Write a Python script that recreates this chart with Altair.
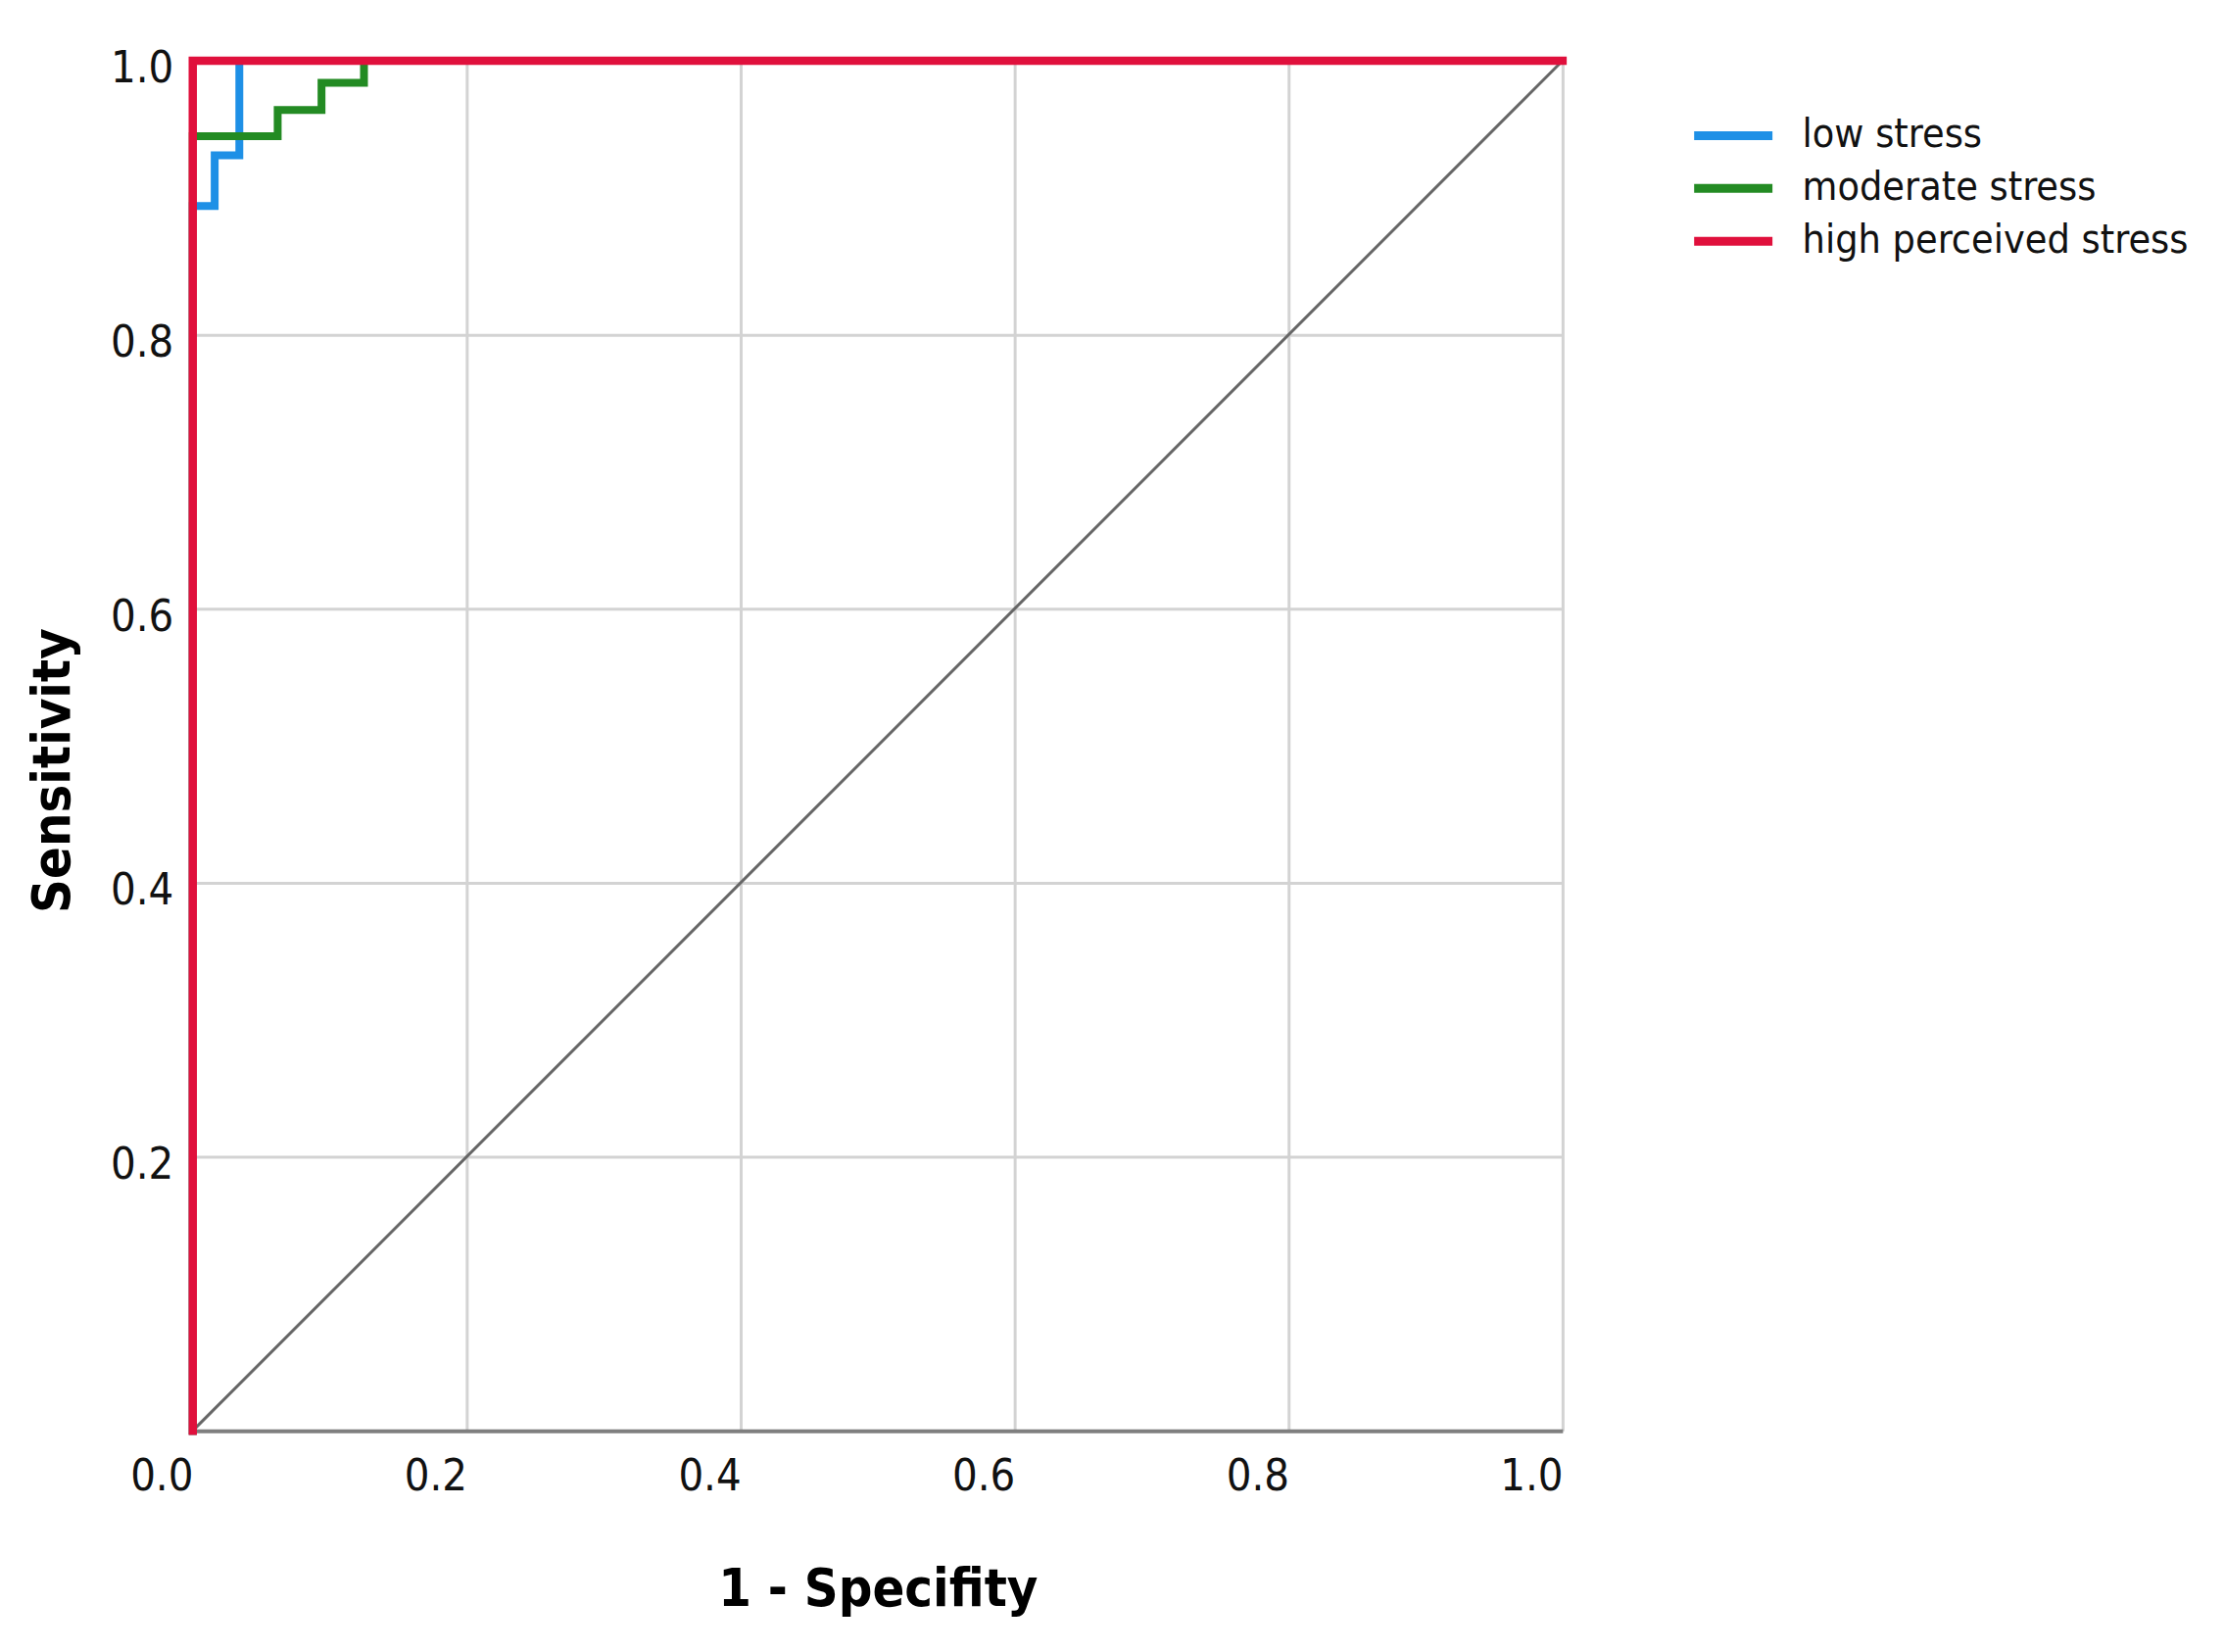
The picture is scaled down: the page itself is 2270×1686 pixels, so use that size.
import altair as alt
import pandas as pd

series_names = ["low stress", "moderate stress", "high perceived stress"]
series_colors = ["#1E90E6", "#238B23", "#E0103C"]

low_fpr = [0.0, 0.0, 0.016, 0.016, 0.034, 0.034, 1.0]
low_tpr = [0.0, 0.894, 0.894, 0.931, 0.931, 1.0, 1.0]
mod_fpr = [0.0, 0.0, 0.062, 0.062, 0.094, 0.094, 0.125, 0.125, 1.0]
mod_tpr = [0.0, 0.945, 0.945, 0.964, 0.964, 0.984, 0.984, 1.0, 1.0]
high_fpr = [0.0, 0.0, 1.0]
high_tpr = [0.0, 1.0, 1.0]
ref_fpr = [0.0, 1.0]
ref_tpr = [0.0, 1.0]

x_ticks = [0.0, 0.2, 0.4, 0.6, 0.8, 1.0]
y_ticks = [0.2, 0.4, 0.6, 0.8, 1.0]

FONT = "DejaVu Sans Condensed, DejaVu Sans"


def frame(name, xs, ys):
    return pd.DataFrame({"group": name, "fpr": xs, "tpr": ys, "step": list(range(len(xs)))})


df_low = frame(series_names[0], low_fpr, low_tpr)
df_mod = frame(series_names[1], mod_fpr, mod_tpr)
df_high = frame(series_names[2], high_fpr, high_tpr)
df_ref = pd.DataFrame({"fpr": ref_fpr, "tpr": ref_tpr, "step": [0, 1]})

x_enc = alt.X(
    "fpr:Q",
    scale=alt.Scale(domain=[0, 1], nice=False, zero=False),
    axis=alt.Axis(
        values=x_ticks,
        format=".1f",
        title="1 - Specifity",
        ticks=False,
        grid=True,
        gridColor="#d3d3d3",
        gridWidth=3,
        domainColor="#7f7f7f",
        domainWidth=4,
        labelFontSize=45,
        labelPadding=24,
        labelOffset=-32,
        labelFlush=False,
        titleFontSize=54,
        titleFontWeight="bold",
        titleY=163,
        titleBaseline="middle",
    ),
)
y_enc = alt.Y(
    "tpr:Q",
    scale=alt.Scale(domain=[0, 1], nice=False, zero=False),
    axis=alt.Axis(
        values=y_ticks,
        format=".1f",
        title="Sensitivity",
        ticks=False,
        grid=True,
        gridColor="#d3d3d3",
        gridWidth=3,
        domainColor="#7f7f7f",
        domainWidth=4,
        labelFontSize=45,
        labelPadding=20,
        labelOffset=8,
        labelFlush=False,
        titleFontSize=54,
        titleFontWeight="bold",
        titleX=-142,
        titleY=725,
        titleBaseline="middle",
        titleAlign="center",
    ),
)

color_enc = alt.Color(
    "group:N",
    scale=alt.Scale(domain=series_names, range=series_colors),
    legend=alt.Legend(
        title=None,
        orient="none",
        legendX=1541,
        legendY=43,
        symbolType="M-1.38,0H1.38",
        symbolSize=3364,
        symbolStrokeWidth=9,
        labelFontSize=41,
        labelFont=FONT,
        labelColor="#111111",
        labelOffset=37,
        rowPadding=0,
        labelLimit=600,
    ),
)

ref = alt.Chart(df_ref).mark_line(color="#666666", strokeWidth=3).encode(
    x=x_enc, y=y_enc, order="step:Q"
)


def series(df, width):
    return alt.Chart(df).mark_line(strokeWidth=width, strokeJoin="miter", strokeCap="square").encode(
        x="fpr:Q", y="tpr:Q", color=color_enc, order="step:Q"
    )


chart = (
    alt.layer(ref, series(df_low, 8), series(df_mod, 8), series(df_high, 8.5))
    .properties(
        width=1400,
        height=1400,
        autosize=alt.AutoSizeParams(type="none"),
        padding={"left": 189, "top": 53, "right": 668, "bottom": 200},
        background="white",
    )
    .configure_view(stroke="transparent")
    .configure_axis(labelFont=FONT, titleFont=FONT, labelColor="#111111", titleColor="#000000")
)

chart.save("out.html", embed_options={"renderer": "svg", "actions": False})
